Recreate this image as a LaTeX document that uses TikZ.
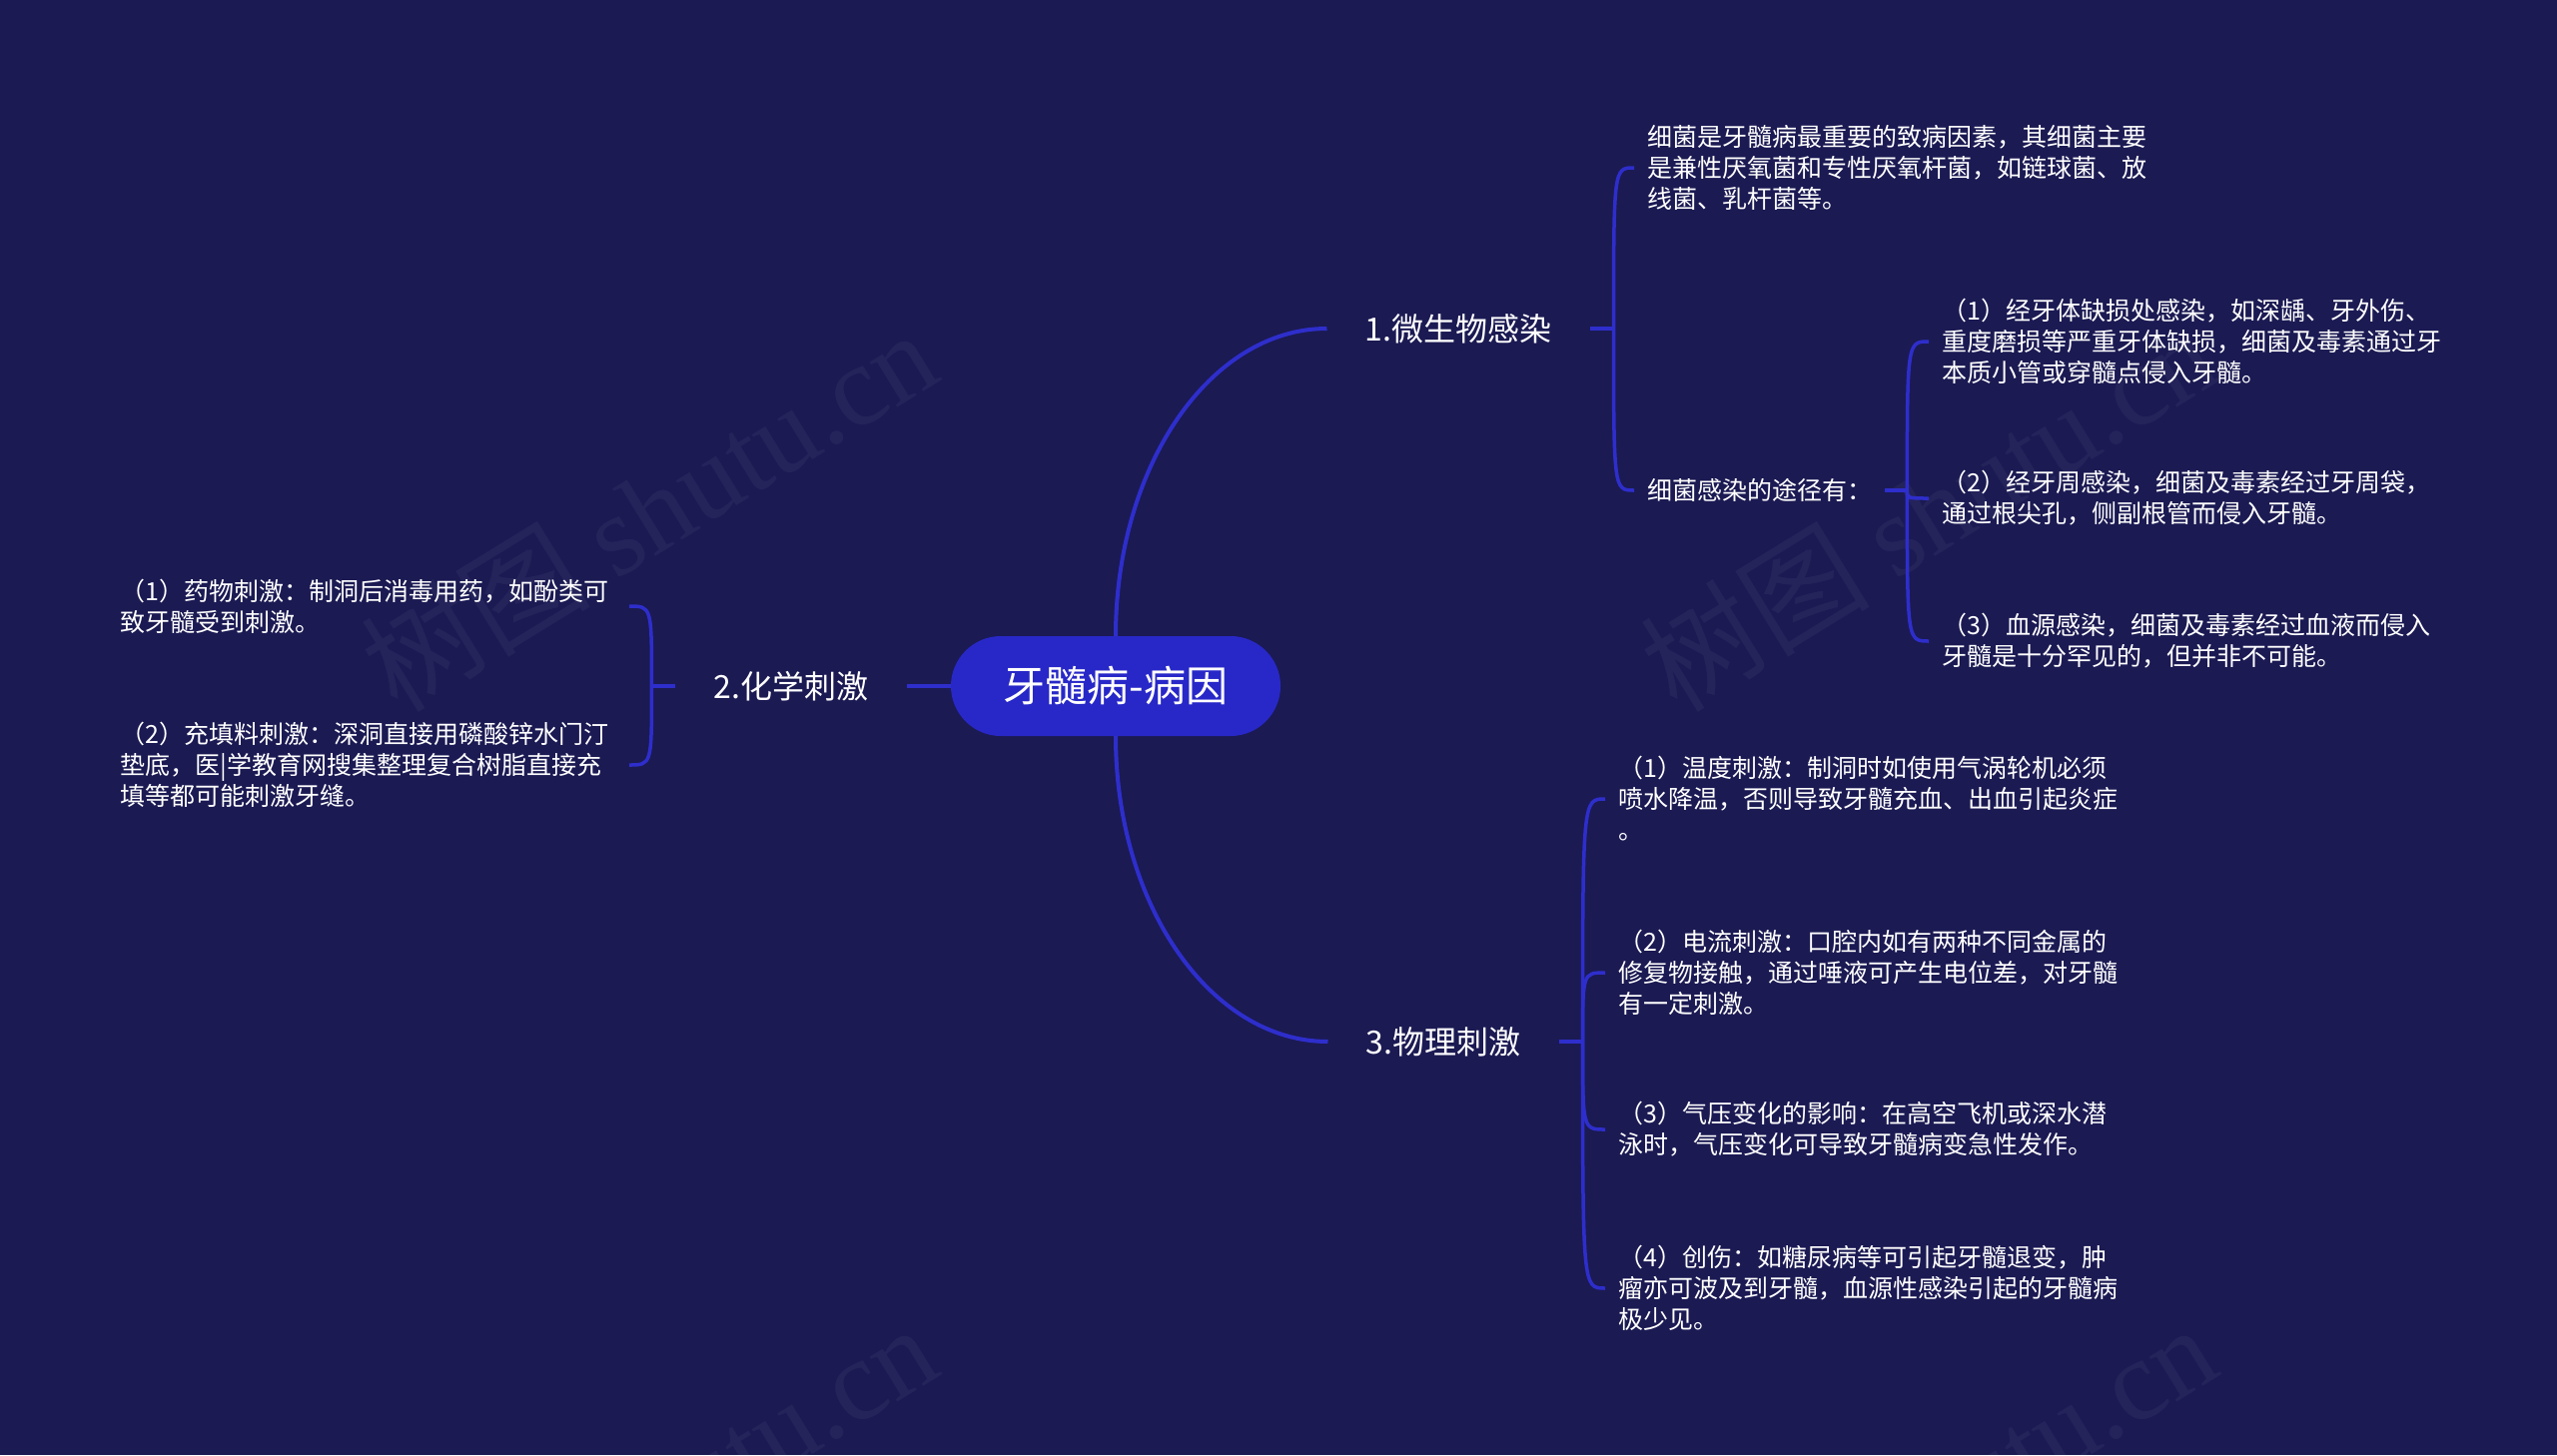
\documentclass[tikz,border=0pt]{standalone}
\usepackage{fontspec}
\setmainfont{Noto Sans CJK SC}
\newfontfamily\wmlatin{Liberation Serif}
\usetikzlibrary{calc}
\definecolor{bgc}{HTML}{1B1A53}
\definecolor{linec}{HTML}{2E2ECC}
\definecolor{pillc}{HTML}{2828C8}
\begin{document}
\begin{tikzpicture}[x=1pt,y=-1pt,
  rootbox/.style={fill=pillc, rounded corners=50pt, minimum width=330pt, minimum height=100pt, inner sep=0pt, text=white, font=\fontsize{42}{50}\selectfont},
  branchbox/.style={text=white, inner xsep=38pt, inner ysep=4pt, font=\fontsize{32}{38}\selectfont},
  leafbox/.style={text=white, inner xsep=13pt, inner ysep=4pt, align=left, font=\fontsize{25}{31}\selectfont},
  conn/.style={draw=linec, line width=3.5pt},
  mainconn/.style={draw=linec, line width=4pt},
  wm/.style={text=white, opacity=0.045, rotate=31.6, font=\fontsize{115}{120}\selectfont}
]
\useasboundingbox (0,0) rectangle (2560,1457);
\fill[bgc] (0,0) rectangle (2560,1457);

% watermarks
\begin{scope}
\clip (0,0) rectangle (2560,1457);
\node[wm] (w1) at (649,510) {树图 {\wmlatin shutu.cn}};
\node[wm] (w2) at (1930,510) {树图 {\wmlatin shutu.cn}};
\node[wm] (w3) at (649,1506) {树图 {\wmlatin shutu.cn}};
\node[wm] (w4) at (1930,1506) {树图 {\wmlatin shutu.cn}};
\end{scope}

% root and branches
\node[rootbox] (root) at (1117,687) {牙髓病-病因};
\node[branchbox] (b1) at (1460,329) {1.微生物感染};
\node[branchbox] (b2) at (792,687) {2.化学刺激};
\node[branchbox] (b3) at (1445,1043) {3.物理刺激};

% branch 1 children
\node[leafbox, anchor=west] (a1) at (1636,168) {细菌是牙髓病最重要的致病因素，其细菌主要\\是兼性厌氧菌和专性厌氧杆菌，如链球菌、放\\线菌、乳杆菌等。};
\node[leafbox, anchor=west] (a2) at (1636,491) {细菌感染的途径有：};
\node[leafbox, anchor=west] (a21) at (1931,342) {（1）经牙体缺损处感染，如深龋、牙外伤、\\重度磨损等严重牙体缺损，细菌及毒素通过牙\\本质小管或穿髓点侵入牙髓。};
\node[leafbox, anchor=west] (a22) at (1931,499) {（2）经牙周感染，细菌及毒素经过牙周袋，\\通过根尖孔，侧副根管而侵入牙髓。};
\node[leafbox, anchor=west] (a23) at (1931,642) {（3）血源感染，细菌及毒素经过血液而侵入\\牙髓是十分罕见的，但并非不可能。};

% branch 2 children
\node[leafbox, anchor=east, text width=496pt] (c1) at (630,607) {（1）药物刺激：制洞后消毒用药，如酚类可\\致牙髓受到刺激。};
\node[leafbox, anchor=east, text width=496pt] (c2) at (630,766) {（2）充填料刺激：深洞直接用磷酸锌水门汀\\垫底，医|学教育网搜集整理复合树脂直接充\\填等都可能刺激牙缝。};

% branch 3 children
\node[leafbox, anchor=west] (d1) at (1607,800) {（1）温度刺激：制洞时如使用气涡轮机必须\\喷水降温，否则导致牙髓充血、出血引起炎症\\。};
\node[leafbox, anchor=west] (d2) at (1607,974) {（2）电流刺激：口腔内如有两种不同金属的\\修复物接触，通过唾液可产生电位差，对牙髓\\有一定刺激。};
\node[leafbox, anchor=west] (d3) at (1607,1131) {（3）气压变化的影响：在高空飞机或深水潜\\泳时，气压变化可导致牙髓病变急性发作。};
\node[leafbox, anchor=west] (d4) at (1607,1290) {（4）创伤：如糖尿病等可引起牙髓退变，肿\\瘤亦可波及到牙髓，血源性感染引起的牙髓病\\极少见。};

% junctions
\coordinate (j1) at ($(b1.east)+(24,0)$);
\coordinate (jA) at ($(a2.east)+(22,0)$);
\coordinate (j2) at ($(b2.west)+(-24,0)$);
\coordinate (j3) at ($(b3.east)+(24,0)$);
\coordinate (k1) at (root.north |- b1.west);
\coordinate (k3) at (root.south |- b3.west);

% main connectors
\draw[mainconn] (root.north) .. controls ($(root.north)!0.5523!(k1)$) and ($(b1.west)!0.5523!(k1)$) .. (b1.west);
\draw[mainconn] (root.south) .. controls ($(root.south)!0.5523!(k3)$) and ($(b3.west)!0.5523!(k3)$) .. (b3.west);
\draw[mainconn] (root.west) -- (b2.east);

% stubs
\draw[conn] (b1.east) -- (j1);
\draw[conn] (a2.east) -- (jA);
\draw[conn] (b2.west) -- (j2);
\draw[conn] (b3.east) -- (j3);

% child connectors
\foreach \c in {a1,a2} {\draw[conn] (j1) .. controls (j1 |- \c.west) .. (\c.west);}
\foreach \c in {a21,a22,a23} {\draw[conn] (jA) .. controls (jA |- \c.west) .. (\c.west);}
\foreach \c in {c1,c2} {\draw[conn] (j2) .. controls (j2 |- \c.east) .. (\c.east);}
\foreach \c in {d1,d2,d3,d4} {\draw[conn] (j3) .. controls (j3 |- \c.west) .. (\c.west);}
\end{tikzpicture}
\end{document}
